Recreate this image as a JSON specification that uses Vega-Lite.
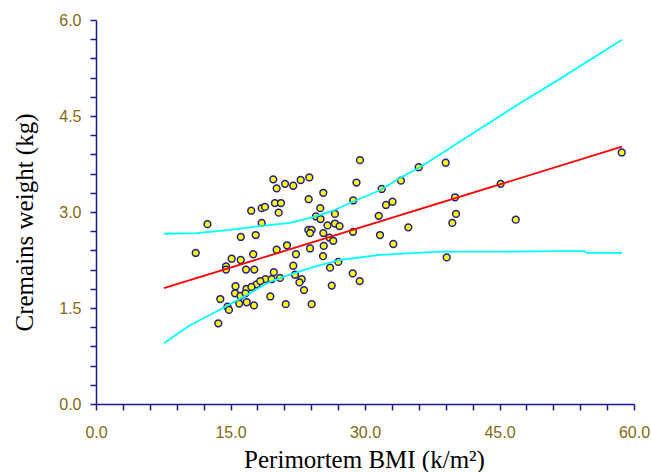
{
  "$schema": "https://vega.github.io/schema/vega-lite/v6.json",
  "width": 538,
  "height": 384,
  "autosize": {"type": "none"},
  "padding": {"left": 96, "top": 20, "right": 17, "bottom": 68},
  "background": "#ffffff",
  "view": {"stroke": null},
  "datasets": {
    "cases": [
      {"bmi": 19.77, "weight": 3.51}, {"bmi": 20.15, "weight": 3.37}, {"bmi": 21.08, "weight": 3.44},
      {"bmi": 22.0, "weight": 3.41}, {"bmi": 22.83, "weight": 3.5}, {"bmi": 23.79, "weight": 3.54},
      {"bmi": 25.35, "weight": 3.3}, {"bmi": 23.72, "weight": 3.2}, {"bmi": 25.01, "weight": 3.06},
      {"bmi": 17.31, "weight": 3.02}, {"bmi": 18.48, "weight": 3.06}, {"bmi": 18.85, "weight": 3.08},
      {"bmi": 19.96, "weight": 3.14}, {"bmi": 20.63, "weight": 3.14}, {"bmi": 20.37, "weight": 2.99},
      {"bmi": 26.65, "weight": 2.97}, {"bmi": 24.53, "weight": 2.93}, {"bmi": 25.04, "weight": 2.89},
      {"bmi": 12.43, "weight": 2.81}, {"bmi": 18.48, "weight": 2.83}, {"bmi": 25.82, "weight": 2.79},
      {"bmi": 26.65, "weight": 2.82}, {"bmi": 27.16, "weight": 2.78}, {"bmi": 23.68, "weight": 2.72},
      {"bmi": 24.05, "weight": 2.72}, {"bmi": 23.87, "weight": 2.67}, {"bmi": 25.35, "weight": 2.67},
      {"bmi": 26.04, "weight": 2.6}, {"bmi": 26.46, "weight": 2.55}, {"bmi": 16.15, "weight": 2.61},
      {"bmi": 17.81, "weight": 2.64}, {"bmi": 11.12, "weight": 2.36}, {"bmi": 15.13, "weight": 2.27},
      {"bmi": 16.14, "weight": 2.25}, {"bmi": 14.5, "weight": 2.15}, {"bmi": 14.5, "weight": 2.1},
      {"bmi": 17.54, "weight": 2.34}, {"bmi": 16.73, "weight": 2.1}, {"bmi": 17.65, "weight": 2.1},
      {"bmi": 20.15, "weight": 2.41}, {"bmi": 21.3, "weight": 2.48}, {"bmi": 22.3, "weight": 2.34},
      {"bmi": 23.87, "weight": 2.43}, {"bmi": 25.4, "weight": 2.47}, {"bmi": 25.32, "weight": 2.31},
      {"bmi": 26.1, "weight": 2.13}, {"bmi": 27.02, "weight": 2.22}, {"bmi": 22.0, "weight": 2.16},
      {"bmi": 19.83, "weight": 2.06}, {"bmi": 18.9, "weight": 1.95}, {"bmi": 19.59, "weight": 1.95},
      {"bmi": 20.52, "weight": 1.97}, {"bmi": 22.19, "weight": 2.02}, {"bmi": 22.94, "weight": 1.95},
      {"bmi": 22.69, "weight": 1.9}, {"bmi": 23.2, "weight": 1.78}, {"bmi": 26.29, "weight": 1.85},
      {"bmi": 15.56, "weight": 1.84}, {"bmi": 15.5, "weight": 1.73}, {"bmi": 16.78, "weight": 1.8},
      {"bmi": 17.9, "weight": 1.87}, {"bmi": 18.32, "weight": 1.92}, {"bmi": 16.11, "weight": 1.69},
      {"bmi": 16.67, "weight": 1.73}, {"bmi": 13.86, "weight": 1.64}, {"bmi": 14.66, "weight": 1.52},
      {"bmi": 14.83, "weight": 1.47}, {"bmi": 15.97, "weight": 1.57}, {"bmi": 16.81, "weight": 1.59},
      {"bmi": 17.62, "weight": 1.54}, {"bmi": 19.44, "weight": 1.68}, {"bmi": 21.16, "weight": 1.56},
      {"bmi": 24.05, "weight": 1.56}, {"bmi": 13.64, "weight": 1.26}, {"bmi": 17.34, "weight": 1.83},
      {"bmi": 29.44, "weight": 3.81}, {"bmi": 35.99, "weight": 3.7}, {"bmi": 29.05, "weight": 3.46},
      {"bmi": 31.86, "weight": 3.36}, {"bmi": 34.01, "weight": 3.49}, {"bmi": 28.69, "weight": 3.18},
      {"bmi": 32.34, "weight": 3.11}, {"bmi": 33.07, "weight": 3.16}, {"bmi": 31.53, "weight": 2.94},
      {"bmi": 28.66, "weight": 2.69}, {"bmi": 31.67, "weight": 2.64}, {"bmi": 34.83, "weight": 2.76},
      {"bmi": 33.16, "weight": 2.5}, {"bmi": 28.63, "weight": 2.04}, {"bmi": 29.41, "weight": 1.92},
      {"bmi": 39.0, "weight": 3.77}, {"bmi": 40.04, "weight": 3.23}, {"bmi": 40.15, "weight": 2.97},
      {"bmi": 39.74, "weight": 2.83}, {"bmi": 45.13, "weight": 3.44}, {"bmi": 46.81, "weight": 2.88},
      {"bmi": 39.11, "weight": 2.29}, {"bmi": 58.63, "weight": 3.93}
    ],
    "fit": [
      {"bmi": 7.58, "weight": 1.81},
      {"bmi": 58.66, "weight": 4.02}
    ],
    "band": [
      {"bound": "upper", "bmi": 7.58, "weight": 2.66}, {"bound": "upper", "bmi": 11.26, "weight": 2.67},
      {"bound": "upper", "bmi": 14.94, "weight": 2.72}, {"bound": "upper", "bmi": 18.29, "weight": 2.78},
      {"bound": "upper", "bmi": 21.63, "weight": 2.83}, {"bound": "upper", "bmi": 24.2, "weight": 2.92},
      {"bound": "upper", "bmi": 26.43, "weight": 3.02}, {"bound": "upper", "bmi": 28.66, "weight": 3.16},
      {"bound": "upper", "bmi": 31.67, "weight": 3.34}, {"bound": "upper", "bmi": 33.9, "weight": 3.53},
      {"bound": "upper", "bmi": 36.13, "weight": 3.7}, {"bound": "upper", "bmi": 38.36, "weight": 3.9},
      {"bound": "upper", "bmi": 42.6, "weight": 4.28}, {"bound": "upper", "bmi": 47.28, "weight": 4.7},
      {"bound": "upper", "bmi": 51.74, "weight": 5.08}, {"bound": "upper", "bmi": 58.66, "weight": 5.69},
      {"bound": "lower", "bmi": 7.58, "weight": 0.95}, {"bound": "lower", "bmi": 10.48, "weight": 1.23},
      {"bound": "lower", "bmi": 13.49, "weight": 1.45}, {"bound": "lower", "bmi": 16.39, "weight": 1.67},
      {"bound": "lower", "bmi": 19.4, "weight": 1.91}, {"bound": "lower", "bmi": 21.63, "weight": 2.02},
      {"bound": "lower", "bmi": 24.2, "weight": 2.14}, {"bound": "lower", "bmi": 27.21, "weight": 2.25},
      {"bound": "lower", "bmi": 31.67, "weight": 2.33}, {"bound": "lower", "bmi": 38.36, "weight": 2.38},
      {"bound": "lower", "bmi": 45.05, "weight": 2.38}, {"bound": "lower", "bmi": 51.74, "weight": 2.39},
      {"bound": "lower", "bmi": 54.5, "weight": 2.39}, {"bound": "lower", "bmi": 54.7, "weight": 2.36},
      {"bound": "lower", "bmi": 58.66, "weight": 2.36}
    ]
  },
  "config": {
    "axis": {
      "domainColor": "#1a1a8c",
      "domainWidth": 1.5,
      "tickColor": "#1a1a8c",
      "tickWidth": 1.5,
      "tickSize": 6,
      "tickCount": 100,
      "grid": false,
      "labelFont": "Liberation Sans",
      "labelFontSize": 16,
      "labelColor": "#806a10",
      "labelOverlap": false,
      "labelBound": false,
      "labelFlush": false,
      "titleFont": "Liberation Serif",
      "titleFontSize": 25,
      "titleFontWeight": "normal",
      "titleColor": "#000000"
    }
  },
  "layer": [
    {
      "data": {"name": "cases"},
      "mark": {"type": "point", "shape": "circle", "filled": true, "fill": "#ffff00", "stroke": "#1f1f8a", "strokeWidth": 1.5, "size": 46, "opacity": 1},
      "encoding": {
        "x": {
          "field": "bmi",
          "type": "quantitative",
          "scale": {"domain": [0, 60], "nice": false, "zero": false},
          "axis": {
            "title": "Perimortem BMI (k/m²)",
            "values": [0, 3, 6, 9, 12, 15, 18, 21, 24, 27, 30, 33, 36, 39, 42, 45, 48, 51, 54, 57, 60],
            "labelExpr": "datum.value % 15 === 0 ? format(datum.value, '.1f') : ''",
            "labelPadding": 14,
            "titleX": 268,
            "titleY": 63,
            "titleAnchor": "middle",
            "titleBaseline": "alphabetic"
          }
        },
        "y": {
          "field": "weight",
          "type": "quantitative",
          "scale": {"domain": [0, 6], "nice": false, "zero": false},
          "axis": {
            "title": "Cremains weight (kg)",
            "values": [0, 0.3, 0.6, 0.9, 1.2, 1.5, 1.8, 2.1, 2.4, 2.7, 3, 3.3, 3.6, 3.9, 4.2, 4.5, 4.8, 5.1, 5.4, 5.7, 6],
            "labelExpr": "datum.value % 1.5 === 0 ? format(datum.value, '.1f') : ''",
            "labelPadding": 9,
            "titleAngle": -90,
            "titleX": -72,
            "titleY": 202,
            "titleAlign": "center",
            "titleBaseline": "middle"
          }
        }
      }
    },
    {
      "data": {"name": "band"},
      "mark": {"type": "line", "color": "#00ffff", "strokeWidth": 1.8},
      "encoding": {
        "x": {"field": "bmi", "type": "quantitative"},
        "y": {"field": "weight", "type": "quantitative"},
        "detail": {"field": "bound"}
      }
    },
    {
      "data": {"name": "fit"},
      "mark": {"type": "line", "color": "#ff0000", "strokeWidth": 1.8},
      "encoding": {
        "x": {"field": "bmi", "type": "quantitative"},
        "y": {"field": "weight", "type": "quantitative"}
      }
    }
  ]
}
